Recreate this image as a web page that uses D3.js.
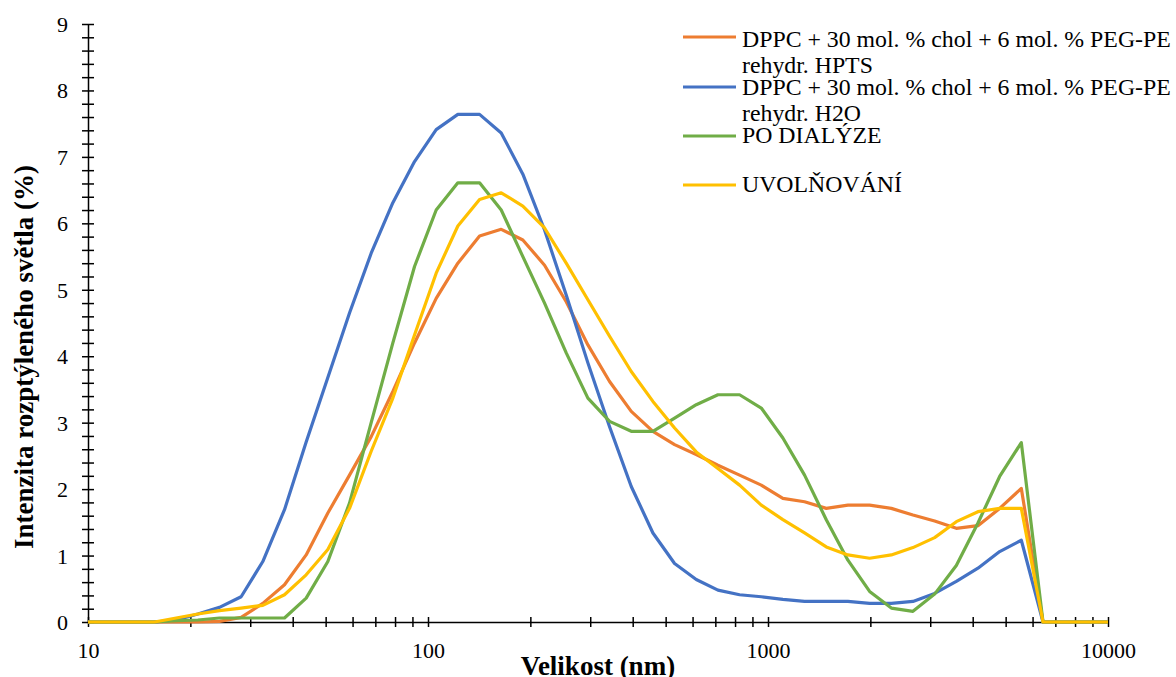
<!DOCTYPE html>
<html>
<head>
<meta charset="utf-8">
<script src="https://cdn.jsdelivr.net/npm/d3@7"></script>
<style>
  html, body { margin: 0; padding: 0; background: #fff; }
  svg { display: block; }
  text { font-family: "Liberation Serif", "Times New Roman", serif; fill: #000; }
</style>
</head>
<body>
<svg id="chart" width="1176" height="677"></svg>
<script>
// ---- data ----
const sizes = [8.721, 10.10, 11.70, 13.54, 15.69, 18.17, 21.04, 24.36, 28.21, 32.67, 37.84, 43.82, 50.75, 58.77, 68.06, 78.82, 91.28, 105.7, 122.4, 141.8, 164.2, 190.1, 220.2, 255.0, 295.3, 342.0, 396.1, 458.7, 531.2, 615.1, 712.4, 825.0, 955.4, 1106, 1281, 1484, 1718, 1990, 2305, 2669, 3091, 3580, 4145, 4801, 5560, 6439, 7456, 8635, 10000];

const hpts = [0, 0, 0, 0, 0, 0, 0, 0.01, 0.07, 0.28, 0.56, 1.01, 1.64, 2.21, 2.79, 3.47, 4.2, 4.87, 5.4, 5.81, 5.91, 5.75, 5.37, 4.82, 4.17, 3.62, 3.17, 2.87, 2.67, 2.52, 2.36, 2.21, 2.06, 1.86, 1.81, 1.71, 1.76, 1.76, 1.71, 1.61, 1.52, 1.41, 1.45, 1.71, 2.01, 0, 0, 0, 0];

const h2o = [0, 0, 0, 0, 0, 0.03, 0.12, 0.22, 0.38, 0.91, 1.69, 2.71, 3.68, 4.65, 5.55, 6.31, 6.93, 7.41, 7.64, 7.64, 7.36, 6.74, 5.9, 4.92, 3.9, 2.94, 2.04, 1.34, 0.88, 0.64, 0.48, 0.41, 0.38, 0.34, 0.31, 0.31, 0.31, 0.28, 0.28, 0.31, 0.43, 0.61, 0.81, 1.06, 1.23, 0, 0, 0, 0];

const poDialyze = [0, 0, 0, 0, 0, 0.02, 0.03, 0.06, 0.06, 0.06, 0.06, 0.36, 0.91, 1.79, 3.0, 4.2, 5.35, 6.2, 6.61, 6.61, 6.2, 5.5, 4.8, 4.05, 3.37, 3.02, 2.87, 2.87, 3.07, 3.27, 3.42, 3.42, 3.22, 2.77, 2.21, 1.54, 0.93, 0.46, 0.21, 0.16, 0.42, 0.85, 1.49, 2.19, 2.7, 0, 0, 0, 0];

const uvolnovani = [0, 0, 0, 0, 0, 0.06, 0.12, 0.17, 0.21, 0.25, 0.41, 0.71, 1.09, 1.71, 2.57, 3.37, 4.32, 5.25, 5.96, 6.36, 6.46, 6.26, 5.93, 5.4, 4.85, 4.3, 3.77, 3.32, 2.92, 2.56, 2.31, 2.06, 1.76, 1.54, 1.34, 1.13, 1.01, 0.96, 1.01, 1.12, 1.27, 1.51, 1.66, 1.71, 1.71, 0, 0, 0, 0];

const seriesNames = [
  ["DPPC + 30 mol. % chol + 6 mol. % PEG-PE", "rehydr. HPTS"],
  ["DPPC + 30 mol. % chol + 6 mol. % PEG-PE", "rehydr. H2O"],
  ["PO DIALÝZE"],
  ["UVOLŇOVÁNÍ"]
];
const seriesValues = [hpts, h2o, poDialyze, uvolnovani];
const seriesColors = ["#ED7D31", "#4472C4", "#70AD47", "#FFC000"];

const xMajorTicks = [10, 100, 1000, 10000];
const yMajorTicks = [0, 1, 2, 3, 4, 5, 6, 7, 8, 9];
const xTitle = "Velikost (nm)";
const yTitle = "Intenzita rozptýleného světla (%)";

// ---- layout ----
const svg = d3.select("#chart");
const plotLeft = 88, plotRight = 1108, plotTop = 24, plotBottom = 622;

const x = d3.scaleLog().domain([10, 10000]).range([plotLeft, plotRight]);
const y = d3.scaleLinear().domain([0, 9]).range([plotBottom, plotTop]);

svg.append("defs").append("clipPath").attr("id", "plotclip")
  .append("rect").attr("x", plotLeft).attr("y", 0).attr("width", plotRight - plotLeft).attr("height", plotBottom + 10);

// x axis ticks: majors + minors
const xTicks = [];
for (let d = 10; d < 10000; d *= 10) {
  for (let k = 1; k < 10; k++) xTicks.push(d * k);
}
xTicks.push(10000);

const xAxis = d3.axisBottom(x)
  .tickValues(xTicks)
  .tickSizeOuter(0)
  .tickSizeInner(5)
  .tickFormat(d => xMajorTicks.includes(d) ? String(d) : "");

const gx = svg.append("g").attr("transform", `translate(0,${plotBottom})`).call(xAxis);
gx.select(".domain").attr("stroke", "#000").attr("stroke-width", 1.5);
gx.selectAll(".tick line").attr("y1", -5).attr("y2", 5).attr("stroke", "#000").attr("stroke-width", 1.5);
gx.selectAll(".tick text").attr("y", 0).attr("dy", 36)
  .style("font-family", "'Liberation Serif', serif").style("font-size", "22px").attr("fill", "#000");

// y axis ticks every 0.2
const yTicks = d3.range(0, 46).map(i => +(i * 0.2).toFixed(1));
const yAxis = d3.axisLeft(y)
  .tickValues(yTicks)
  .tickSizeOuter(0)
  .tickSizeInner(6)
  .tickFormat(d => yMajorTicks.includes(d) ? String(d) : "");

const gy = svg.append("g").attr("transform", `translate(${plotLeft},0)`).call(yAxis);
gy.select(".domain").attr("stroke", "#000").attr("stroke-width", 1.5);
gy.selectAll(".tick line").attr("x1", -6).attr("x2", 6).attr("stroke", "#000").attr("stroke-width", 1.5);
gy.selectAll(".tick text").attr("x", -20).attr("dy", "0.34em")
  .style("font-family", "'Liberation Serif', serif").style("font-size", "22px").attr("fill", "#000");

// series lines
const line = d3.line()
  .x((d, i) => x(sizes[i]))
  .y(d => y(d));

const plot = svg.append("g").attr("clip-path", "url(#plotclip)");
seriesValues.forEach((vals, s) => {
  plot.append("path")
    .datum(vals)
    .attr("fill", "none")
    .attr("stroke", seriesColors[s])
    .attr("stroke-width", 3.2)
    .attr("stroke-linejoin", "round")
    .attr("d", line);
});

// axis titles
svg.append("text")
  .attr("x", (plotLeft + plotRight) / 2)
  .attr("y", 675)
  .attr("text-anchor", "middle")
  .style("font-size", "27px").style("font-weight", "bold")
  .text(xTitle);

svg.append("text")
  .attr("transform", "translate(33,357) rotate(-90)")
  .attr("text-anchor", "middle")
  .style("font-size", "27px").style("font-weight", "bold")
  .text(yTitle);

// legend
const legendLineY = [37, 87, 136, 185];
const legendBase = [47, 95, 143, 192];
const leg = svg.append("g");
seriesNames.forEach((lines, s) => {
  leg.append("line")
    .attr("x1", 683).attr("x2", 736)
    .attr("y1", legendLineY[s]).attr("y2", legendLineY[s])
    .attr("stroke", seriesColors[s]).attr("stroke-width", 3.2);
  lines.forEach((t, j) => {
    leg.append("text")
      .attr("x", 742)
      .attr("y", legendBase[s] + j * 26)
      .style("font-size", "23.8px")
      .text(t);
  });
});
</script>
</body>
</html>
